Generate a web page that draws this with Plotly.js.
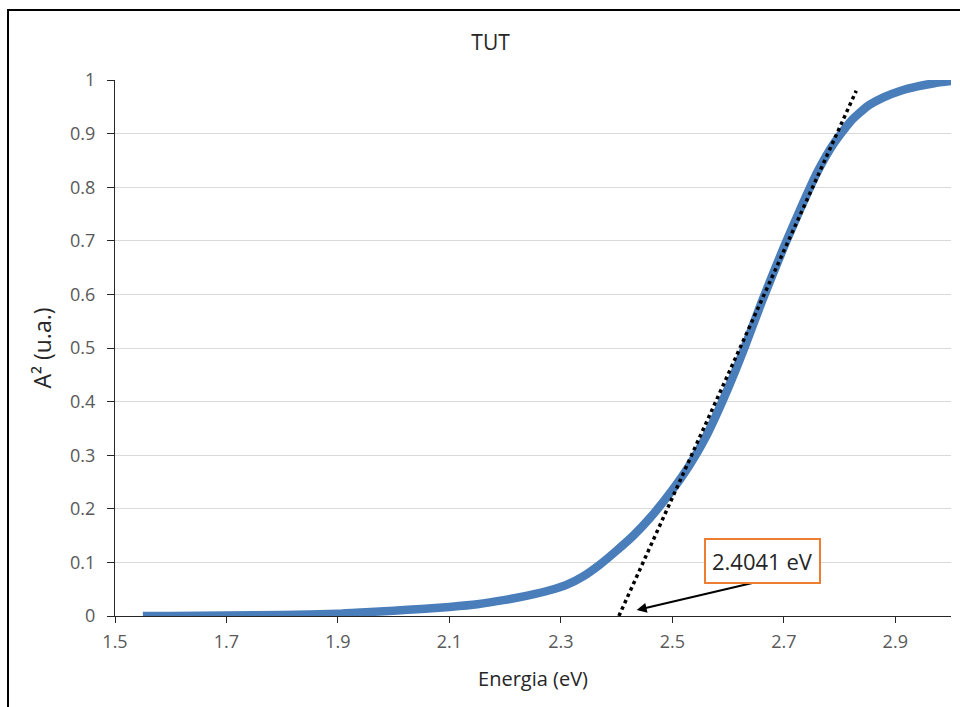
<!DOCTYPE html>
<html>
<head>
<meta charset="utf-8">
<script src="https://cdn.plot.ly/plotly-3.0.1.min.js"></script>
<style>
  html, body { margin: 0; padding: 0; overflow: hidden; background: #fff; }
  #chart { width: 960px; height: 707px; }
  #frame { position: absolute; left: 7px; top: 9px; width: 1200px; height: 1200px;
           border: 2px solid #000; pointer-events: none; }
</style>
</head>
<body>
<div id="chart"></div>
<div id="frame"></div>
<script>
// Measured curve (Energia in eV, A^2 in u.a.)
const energia = [1.55, 1.6, 1.7, 1.8, 1.9, 1.95, 2.0, 2.05, 2.1, 2.15, 2.2, 2.24, 2.28, 2.31, 2.34,
                 2.37, 2.4, 2.43, 2.46, 2.5, 2.53, 2.56, 2.6, 2.63, 2.66, 2.7, 2.73, 2.76, 2.79,
                 2.82, 2.85, 2.88, 2.91, 2.94, 2.97, 3.0];
const absorb2 = [0, 0, 0.001, 0.002, 0.004, 0.007, 0.01, 0.013, 0.017, 0.022, 0.03, 0.038, 0.048, 0.058, 0.074,
                 0.096, 0.122, 0.15, 0.183, 0.235, 0.28, 0.334, 0.425, 0.502, 0.585, 0.688, 0.76, 0.828, 0.882,
                 0.923, 0.951, 0.968, 0.98, 0.988, 0.994, 0.998];
// Tangent (linear fit) line
const tangentX = [2.4041, 2.83];
const tangentY = [0, 0.98];
// Annotation
const gapLabel = "2.4041 eV";
const arrowHead = [2.436, 0.011];
const arrowTail = [2.6615, 0.066];
const labelPos = [2.6615, 0.102];
const xTicks = [1.5, 1.7, 1.9, 2.1, 2.3, 2.5, 2.7, 2.9];
const yTicks = [0, 0.1, 0.2, 0.3, 0.4, 0.5, 0.6, 0.7, 0.8, 0.9, 1];

const font = "'Open Sans', 'Noto Sans', sans-serif";

const traces = [
  {
    x: energia, y: absorb2, type: 'scatter', mode: 'lines',
    line: { color: '#4A7EBB', width: 8.5, shape: 'spline', smoothing: 0.5 },
    hoverinfo: 'skip', showlegend: false
  },
  {
    x: tangentX, y: tangentY, type: 'scatter', mode: 'lines',
    line: { color: '#000', width: 3.5, dash: 'dot' },
    hoverinfo: 'skip', showlegend: false
  }
];

const layout = {
  width: 960, height: 707,
  margin: { l: 115, r: 9, t: 80, b: 91 },
  paper_bgcolor: '#fff', plot_bgcolor: '#fff',
  font: { family: font, color: '#595959', size: 18 },
  title: { text: 'TUT', font: { family: font, size: 21, color: '#262626' },
           xref: 'container', x: 0.511, xanchor: 'center',
           yref: 'container', y: 1 - 43 / 707, yanchor: 'middle' },
  xaxis: {
    range: [1.5, 3.0], tickmode: 'array', tickvals: xTicks,
    ticktext: xTicks.map(v => v.toFixed(1)),
    showgrid: false, zeroline: false, showline: true, linecolor: '#262626', linewidth: 1,
    ticks: 'outside', ticklen: 6, tickcolor: '#262626', ticklabelstandoff: 3,
    tickfont: { family: font, size: 18, color: '#595959' },
    title: { text: 'Energia (eV)', font: { family: font, size: 20, color: '#262626' }, standoff: 20 }
  },
  yaxis: {
    range: [0, 1], tickmode: 'array', tickvals: yTicks,
    ticktext: yTicks.map(v => String(v)),
    showgrid: true, gridcolor: '#D9D9D9', gridwidth: 1,
    zeroline: false, showline: true, linecolor: '#262626', linewidth: 1,
    ticks: 'outside', ticklen: 7, tickcolor: '#262626', ticklabelstandoff: 8,
    tickfont: { family: font, size: 18, color: '#595959' },
    title: { text: 'A² (u.a.)', font: { family: font, size: 23, color: '#262626' }, standoff: 12 }
  },
  annotations: [
    {
      x: arrowHead[0], y: arrowHead[1], xref: 'x', yref: 'y',
      ax: arrowTail[0], ay: arrowTail[1], axref: 'x', ayref: 'y',
      text: '', showarrow: true, arrowhead: 2, arrowsize: 1, arrowwidth: 2,
      arrowcolor: '#000', standoff: 0, startstandoff: 0
    },
    {
      x: labelPos[0], y: labelPos[1], xref: 'x', yref: 'y',
      text: gapLabel, showarrow: false,
      font: { family: font, size: 22, color: '#262626' },
      bordercolor: '#ED7D31', borderwidth: 2, borderpad: 6, bgcolor: '#fff',
      xanchor: 'center', yanchor: 'middle'
    }
  ]
};

Plotly.newPlot('chart', traces, layout, { staticPlot: true, displayModeBar: false });
</script>
</body>
</html>
